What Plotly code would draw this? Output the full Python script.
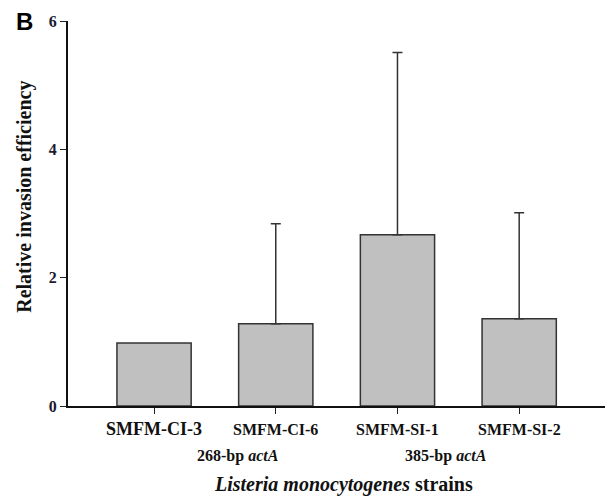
import plotly.graph_objects as go

# Strains, mean relative invasion efficiency and upper SD (reference strain has none)
strains = ["SMFM-CI-3", "SMFM-CI-6", "SMFM-SI-1", "SMFM-SI-2"]
efficiency = [0.98, 1.28, 2.67, 1.36]
sd_upper = [None, 1.56, 2.84, 1.65]
y_ticks = [0, 2, 4, 6]
group_labels = ["268-bp <i>actA</i>", "385-bp <i>actA</i>"]
group_pos = [0.69, 2.4]

W, H = 605, 497
L, R, T, B = 68, 0, 21, 90.5
pw, ph = W - L - R, H - T - B

def py(pix):
    return (H - B - pix) / ph

def px(pix):
    return (pix - L) / pw

serif = "Liberation Serif, Times New Roman, serif"
x = list(range(len(strains)))

fig = go.Figure(go.Bar(
    x=x, y=efficiency, width=0.61,
    marker=dict(color="#c0c0c0", line=dict(color="#333333", width=1.5)),
))

# upper error bars only where an SD exists
ex = [xi for xi, s in zip(x, sd_upper) if s is not None]
ey = [v for v, s in zip(efficiency, sd_upper) if s is not None]
es = [s for s in sd_upper if s is not None]
fig.add_trace(go.Scatter(
    x=ex, y=ey, mode="markers", marker=dict(size=1, opacity=0),
    error_y=dict(type="data", symmetric=False, array=es,
                 arrayminus=[0] * len(es), color="#333333",
                 thickness=1.5, width=5),
    hoverinfo="skip",
))

annotations = []
for i, s in enumerate(strains):
    annotations.append(dict(
        x=i, xref="x", y=py(430), yref="paper", text="<b>%s</b>" % s,
        showarrow=False, xanchor="center", yanchor="middle",
        font=dict(family=serif, size=18 if i == 0 else 16, color="#111111")))
for g, gx in zip(group_labels, group_pos):
    annotations.append(dict(
        x=gx, xref="x", y=py(457), yref="paper", text="<b>%s</b>" % g,
        showarrow=False, xanchor="center", yanchor="middle",
        font=dict(family=serif, size=16, color="#111111")))
annotations.append(dict(
    x=px(343.5), xref="paper", y=py(485), yref="paper",
    text="<b><i>Listeria monocytogenes</i> strains</b>",
    showarrow=False, xanchor="center", yanchor="middle",
    font=dict(family=serif, size=20, color="#111111")))
annotations.append(dict(
    x=px(25), xref="paper", y=py(197), yref="paper",
    text="<b>Relative invasion efficiency</b>", textangle=-90,
    showarrow=False, xanchor="center", yanchor="middle",
    font=dict(family=serif, size=20, color="#111111")))
annotations.append(dict(
    x=px(24), xref="paper", y=py(22), yref="paper", text="<b>B</b>",
    showarrow=False, xanchor="center", yanchor="middle",
    font=dict(family="Liberation Sans, Arial, sans-serif", size=24, color="#000000")))

fig.update_layout(
    width=W, height=H,
    margin=dict(l=L, r=R, t=T, b=B, pad=0),
    paper_bgcolor="white", plot_bgcolor="white",
    showlegend=False,
    annotations=annotations,
    xaxis=dict(range=[-0.707, 3.705], tickvals=x, ticktext=[""] * len(x),
               ticks="outside", ticklen=6, tickwidth=1.2, tickcolor="#222222",
               showline=True, linecolor="#111111", linewidth=2,
               showgrid=False, zeroline=False, fixedrange=True),
    yaxis=dict(range=[0, 6], tickvals=y_ticks,
               ticktext=["<b>%d</b>" % v for v in y_ticks],
               ticks="outside", ticklen=6, tickwidth=1.2, tickcolor="#222222",
               tickfont=dict(family=serif, size=16, color="#1a1a30"),
               showline=True, linecolor="#111111", linewidth=2,
               showgrid=False, zeroline=False, fixedrange=True),
)

fig.write_html("out.html")
